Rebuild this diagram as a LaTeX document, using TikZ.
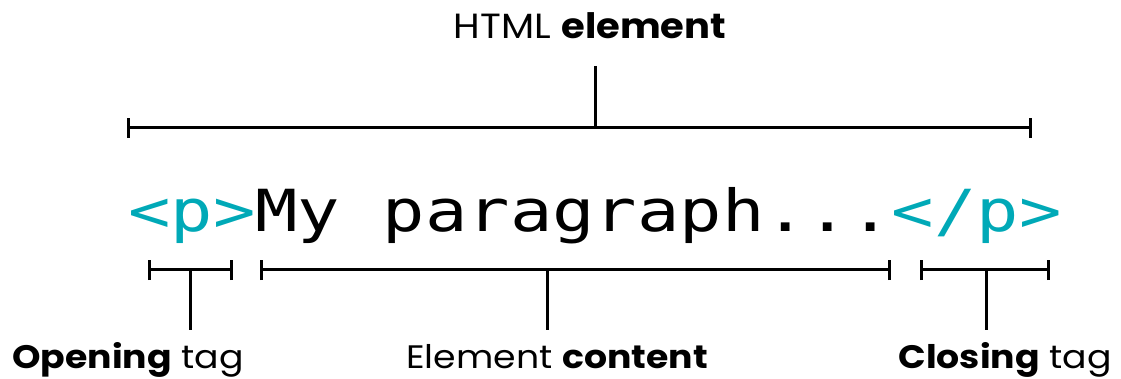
\documentclass[tikz,border=0pt]{standalone}
\usepackage{fontspec}
\usepackage{graphicx}
\setmainfont{Poppins}
\newfontfamily\codefont{DejaVu Sans Mono}
\definecolor{tagteal}{HTML}{00A9B7}
\newcommand{\widelbl}[1]{\scalebox{1.115}[1]{#1}}
\newcommand{\widecode}[1]{\scalebox{1.215}[1]{#1}}
\begin{document}
\begin{tikzpicture}[x=1pt,y=-1pt,
  bar/.style={line width=3pt, black},
  lbl/.style={anchor=base, inner sep=0pt, font=\fontsize{32.5}{32.5}\selectfont},
  toplbl/.style={anchor=base, inner sep=0pt, font=\fontsize{35}{35}\selectfont}]
\useasboundingbox (0,0) rectangle (1121,379);

% code line
\node[anchor=base west, inner sep=0pt] (code) at (128,232)
  {\widecode{\codefont\fontsize{58}{58}\selectfont\textcolor{tagteal}{<p>}My paragraph...\textcolor{tagteal}{</p>}}};

% top bracket
\coordinate (tl) at (128,128);
\coordinate (tr) at (1030,128);
\coordinate (tm) at (595,128);
\node[toplbl] (html) at (590,39) {\scalebox{1.1}[1]{HTML \textbf{element}}};
\coordinate (tstem) at (595,66);
\draw[bar] (tl) -- (tr);
\draw[bar] ([yshift=-10pt]tl) -- ([yshift=10pt]tl);
\draw[bar] ([yshift=-10pt]tr) -- ([yshift=10pt]tr);
\draw[bar] (tstem) -- (tm);

% opening bracket
\coordinate (ol) at (149,270);
\coordinate (or) at (231,270);
\coordinate (om) at (190,270);
\coordinate (ostem) at (190,330);
\draw[bar] (ol) -- (or);
\draw[bar] ([yshift=-10pt]ol) -- ([yshift=10pt]ol);
\draw[bar] ([yshift=-10pt]or) -- ([yshift=10pt]or);
\draw[bar] (om) -- (ostem);
\node[lbl] (open) at (128,368) {\widelbl{\textbf{Opening} tag}};

% content bracket
\coordinate (cl) at (261,270);
\coordinate (cr) at (889,270);
\coordinate (cm) at (547,270);
\coordinate (cstem) at (547,330);
\draw[bar] (cl) -- (cr);
\draw[bar] ([yshift=-10pt]cl) -- ([yshift=10pt]cl);
\draw[bar] ([yshift=-10pt]cr) -- ([yshift=10pt]cr);
\draw[bar] (cm) -- (cstem);
\node[lbl] (content) at (557,368) {\widelbl{Element \textbf{content}}};

% closing bracket
\coordinate (xl) at (921,270);
\coordinate (xr) at (1048,270);
\coordinate (xm) at (986,270);
\coordinate (xstem) at (986,330);
\draw[bar] (xl) -- (xr);
\draw[bar] ([yshift=-10pt]xl) -- ([yshift=10pt]xl);
\draw[bar] ([yshift=-10pt]xr) -- ([yshift=10pt]xr);
\draw[bar] (xm) -- (xstem);
\node[lbl] (close) at (1005,368) {\widelbl{\textbf{Closing} tag}};
\end{tikzpicture}
\end{document}
